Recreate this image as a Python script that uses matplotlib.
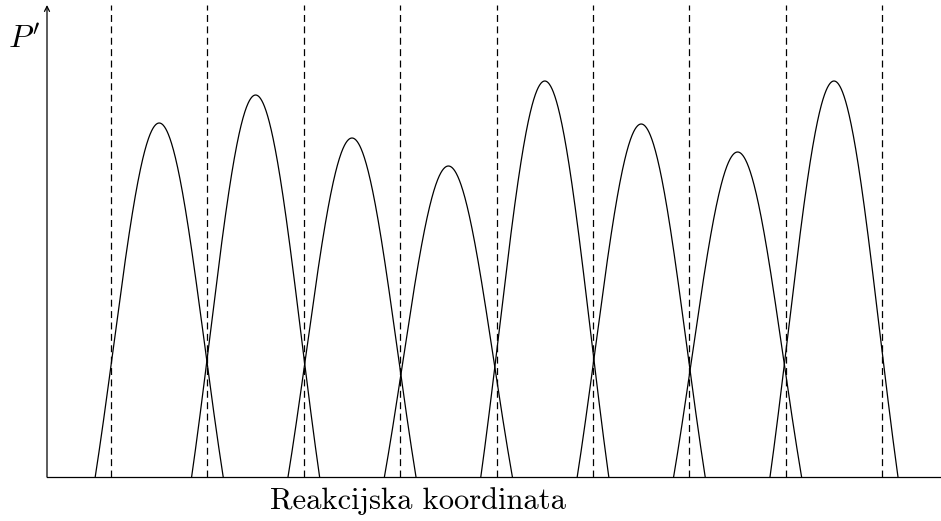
import numpy as np
import matplotlib
matplotlib.use("Agg")
import matplotlib.pyplot as plt

plt.rcParams["mathtext.fontset"] = "cm"
plt.rcParams["lines.scale_dashes"] = False

# peak centres (reaction coordinate units) and peak heights
centers = [1, 2, 3, 4, 5, 6, 7, 8]
heights = [3.54, 3.82, 3.39, 3.11, 3.96, 3.53, 3.25, 3.96]
half_width = 0.664
# dashed separators between states
separators = [0.5, 1.5, 2.5, 3.5, 4.5, 5.5, 6.5, 7.5, 8.5]

x_min, x_max = -0.164, 9.11
y_top = 4.72


def bump(x, c, h):
    # gaussian lobe shifted down so it meets the axis at c +- half_width
    u = (x - c) / half_width
    return h * (np.exp(-u ** 2) - np.exp(-1)) / (1 - np.exp(-1))


fig = plt.figure(figsize=(9.41, 5.21), dpi=100)
ax = fig.add_axes([47 / 941, 44 / 521, (941 - 47) / 941, (477 - 5) / 521])
ax.set_xlim(x_min, x_max)
ax.set_ylim(0, y_top)
ax.axis("off")

for c, h in zip(centers, heights):
    x = np.linspace(c - half_width, c + half_width, 400)
    ax.plot(x, bump(x, c, h), color="black", lw=0.9, clip_on=False)

for s in separators:
    ax.plot([s, s], [0, y_top], color="black", lw=0.9,
            linestyle=(0, (5, 3.2)), clip_on=False)

# axes lines
ax.plot([x_min, x_max], [0, 0], color="black", lw=0.9, clip_on=False)
ax.annotate("", xy=(x_min, y_top), xytext=(x_min, 0),
            arrowprops=dict(arrowstyle="->", lw=0.9, color="black",
                            shrinkA=0, shrinkB=0, mutation_scale=9))

fig.text(24 / 941, 1 - 39 / 521, r"$P'$", fontsize=23, ha="center", va="center")
fig.text(418 / 941, 1 - 501 / 521, "Reakcijska koordinata", fontsize=22,
         family="cmr10", ha="center", va="center")

fig.savefig("out.png", dpi=100)
